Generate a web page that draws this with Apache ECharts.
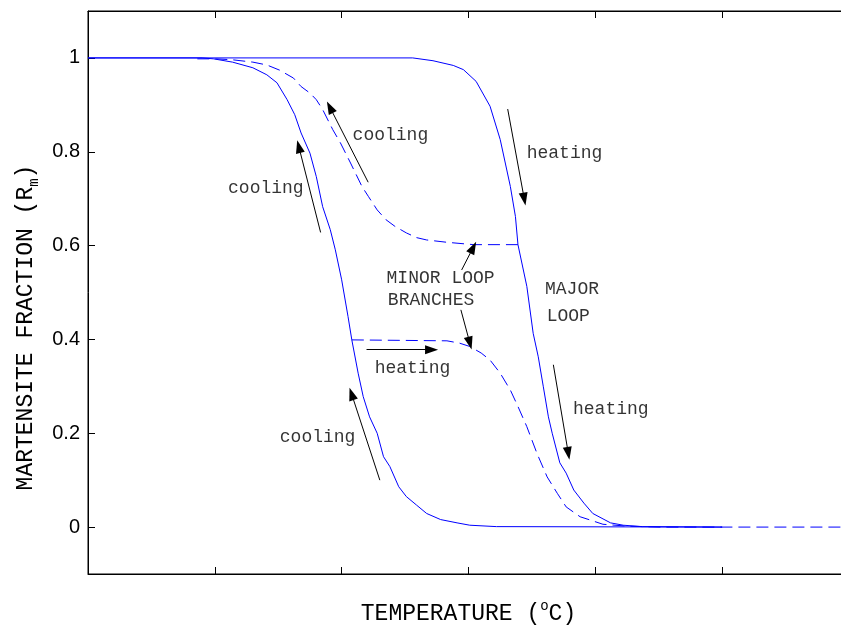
<!DOCTYPE html>
<html>
<head>
<meta charset="utf-8">
<script src="https://cdn.jsdelivr.net/npm/echarts@6/dist/echarts.min.js"></script>
<style>html,body{margin:0;padding:0;background:#fff}#c{width:841px;height:629px}</style>
</head>
<body>
<div id="c"></div>
<script>
// ---- data (x: temperature axis units 0..6, y: martensite fraction) ----
var majorHeatX = [0, 2.56, 2.72, 2.88, 2.96, 3.06, 3.17, 3.25, 3.33, 3.37, 3.39, 3.46, 3.51, 3.55, 3.59, 3.63, 3.66, 3.72, 3.77, 3.83, 3.91, 3.98, 4.12, 4.22, 4.37, 5.0];
var majorHeatY = [1, 1, 0.994, 0.984, 0.975, 0.950, 0.897, 0.826, 0.726, 0.662, 0.602, 0.513, 0.413, 0.363, 0.299, 0.235, 0.200, 0.137, 0.115, 0.079, 0.051, 0.029, 0.009, 0.004, 0.001, 0];
var majorCoolX = [0, 0.90, 0.99, 1.14, 1.30, 1.41, 1.49, 1.57, 1.63, 1.68, 1.75, 1.80, 1.85, 1.91, 1.95, 2.00, 2.05, 2.08, 2.13, 2.17, 2.22, 2.28, 2.33, 2.38, 2.45, 2.51, 2.59, 2.67, 2.78, 2.91, 3.01, 3.22, 5.0];
var majorCoolY = [1, 1, 0.998, 0.991, 0.979, 0.964, 0.947, 0.911, 0.879, 0.840, 0.797, 0.747, 0.683, 0.634, 0.591, 0.527, 0.449, 0.399, 0.328, 0.278, 0.235, 0.200, 0.150, 0.129, 0.086, 0.065, 0.047, 0.029, 0.016, 0.009, 0.004, 0.001, 0];
var minorCoolX = [3.39, 3.04, 2.83, 2.67, 2.59, 2.51, 2.42, 2.35, 2.28, 2.21, 2.16, 2.07, 1.99, 1.93, 1.85, 1.80, 1.75, 1.68, 1.62, 1.51, 1.41, 1.30, 1.14, 1.01, 0.82];
var minorCoolY = [0.602, 0.602, 0.607, 0.612, 0.617, 0.627, 0.641, 0.655, 0.676, 0.705, 0.726, 0.776, 0.819, 0.847, 0.890, 0.911, 0.925, 0.939, 0.957, 0.974, 0.985, 0.991, 0.996, 0.998, 0.998];
var minorHeatX = [2.08, 2.83, 2.93, 3.01, 3.10, 3.17, 3.25, 3.33, 3.39, 3.46, 3.54, 3.62, 3.70, 3.77, 3.88, 3.96, 4.06, 4.25, 4.51, 6.0];
var minorHeatY = [0.399, 0.397, 0.392, 0.385, 0.371, 0.356, 0.328, 0.292, 0.257, 0.214, 0.157, 0.107, 0.072, 0.043, 0.022, 0.015, 0.006, 0.002, 0, 0];
var yTickValues = [0, 0.2, 0.4, 0.6, 0.8, 1];
var xTickValues = [1, 2, 3, 4, 5];
// annotation texts (left start x, middle y)
var noteText = ['cooling', 'cooling', 'heating', 'MINOR LOOP', 'BRANCHES', 'MAJOR', 'LOOP', 'heating', 'heating', 'cooling'];
var noteX = [2.086, 1.104, 3.459, 2.354, 2.364, 3.603, 3.616, 2.260, 3.824, 1.512];
var noteY = [0.835, 0.723, 0.796, 0.531, 0.483, 0.506, 0.449, 0.339, 0.251, 0.191];
// arrows: tail -> head
var arrowX1 = [2.209, 1.834, 3.309, 2.946, 2.940, 2.196, 3.669, 2.301];
var arrowY1 = [0.735, 0.628, 0.891, 0.548, 0.463, 0.378, 0.346, 0.100];
var arrowX2 = [1.907, 1.662, 3.440, 3.037, 3.011, 2.709, 3.787, 2.078];
var arrowY2 = [0.895, 0.811, 0.699, 0.596, 0.392, 0.378, 0.157, 0.284];

function pairs(xs, ys) { return xs.map(function (x, i) { return [x, ys[i]]; }); }

var BLUE = '#0000ff';
var MONO = '"Liberation Mono", "Courier New", monospace';

var arrowData = arrowX1.map(function (x, i) {
  return [{ coord: [x, arrowY1[i]] }, { coord: [arrowX2[i], arrowY2[i]] }];
});
var noteData = noteText.map(function (t, i) { return { name: t, value: [noteX[i], noteY[i]] }; });

var chart = echarts.init(document.getElementById('c'), null, { renderer: 'canvas' });
var tickStyle = function (vals) {
  return { show: true, inside: true, length: 7, customValues: vals, lineStyle: { color: '#000', width: 1 } };
};
var option = {
  animation: false,
  backgroundColor: '#fff',
  grid: { left: 88, top: 11, width: 761, height: 563, outerBoundsMode: 'none', containLabel: false,
          show: true, borderColor: '#000', borderWidth: 1, backgroundColor: 'transparent' },
  xAxis: [
    {
      type: 'value', min: 0, max: 6, interval: 1, position: 'bottom',
      axisLine: { show: true, onZero: false, lineStyle: { color: '#000' } },
      axisTick: tickStyle(xTickValues), axisLabel: { show: false }, splitLine: { show: false },
      name: 'TEMPERATURE ({sup|o}C)', nameLocation: 'middle', nameGap: 40,
      nameTextStyle: {
        fontFamily: MONO, fontSize: 23, color: '#000', lineHeight: 30, verticalAlign: 'middle',
        rich: { sup: { fontFamily: MONO, fontSize: 14, color: '#000', lineHeight: 30, verticalAlign: 'top' } }
      }
    },
    {
      type: 'value', min: 0, max: 6, interval: 1, position: 'top',
      axisLine: { show: true, onZero: false, lineStyle: { color: '#000' } },
      axisTick: tickStyle(xTickValues), axisLabel: { show: false }, splitLine: { show: false }
    }
  ],
  yAxis: [
    {
      type: 'value', min: -0.1, max: 1.1, position: 'left',
      axisLine: { show: true, onZero: false, lineStyle: { color: '#000' } },
      axisTick: tickStyle(yTickValues),
      axisLabel: { show: true, customValues: yTickValues, fontFamily: '"Liberation Sans", Arial, sans-serif', fontSize: 20, color: '#000', margin: 8 },
      splitLine: { show: false },
      name: 'MARTENSITE FRACTION (R{sub|m})', nameLocation: 'middle', nameGap: 62, nameRotate: 90,
      nameTextStyle: {
        fontFamily: MONO, fontSize: 23, color: '#000', lineHeight: 30, verticalAlign: 'middle', padding: [0, 70, 0, 0],
        rich: { sub: { fontFamily: MONO, fontSize: 14, color: '#000', lineHeight: 30, verticalAlign: 'bottom' } }
      }
    },
    {
      type: 'value', min: -0.1, max: 1.1, position: 'right',
      axisLine: { show: true, onZero: false, lineStyle: { color: '#000' } },
      axisTick: tickStyle(yTickValues), axisLabel: { show: false }, splitLine: { show: false }
    }
  ],
  series: [
    { type: 'line', name: 'major heating', data: pairs(majorHeatX, majorHeatY), showSymbol: false, symbol: 'none',
      lineStyle: { color: BLUE, width: 1 }, z: 3, silent: true },
    { type: 'line', name: 'major cooling', data: pairs(majorCoolX, majorCoolY), showSymbol: false, symbol: 'none',
      lineStyle: { color: BLUE, width: 1 }, z: 3, silent: true },
    { type: 'line', name: 'minor cooling', data: pairs(minorCoolX, minorCoolY), showSymbol: false, symbol: 'none',
      lineStyle: { color: BLUE, width: 1, type: [12, 6] }, z: 2, silent: true },
    { type: 'line', name: 'minor heating', data: pairs(minorHeatX, minorHeatY), showSymbol: false, symbol: 'none',
      lineStyle: { color: BLUE, width: 1, type: [12, 6] }, z: 2, silent: true },
    { type: 'scatter', name: 'notes', data: noteData, symbolSize: 0, silent: true, z: 5,
      label: { show: true, position: 'right', distance: 0, formatter: '{b}', fontFamily: MONO, fontSize: 18, color: '#000' },
      markLine: {
        silent: true, animation: false, symbol: ['none', 'triangle'], symbolSize: [9, 13],
        label: { show: false },
        lineStyle: { color: '#000', width: 1, type: 'solid' },
        emphasis: { disabled: true },
        data: arrowData
      }
    }
  ]
};
chart.setOption(option);
</script>
</body>
</html>
